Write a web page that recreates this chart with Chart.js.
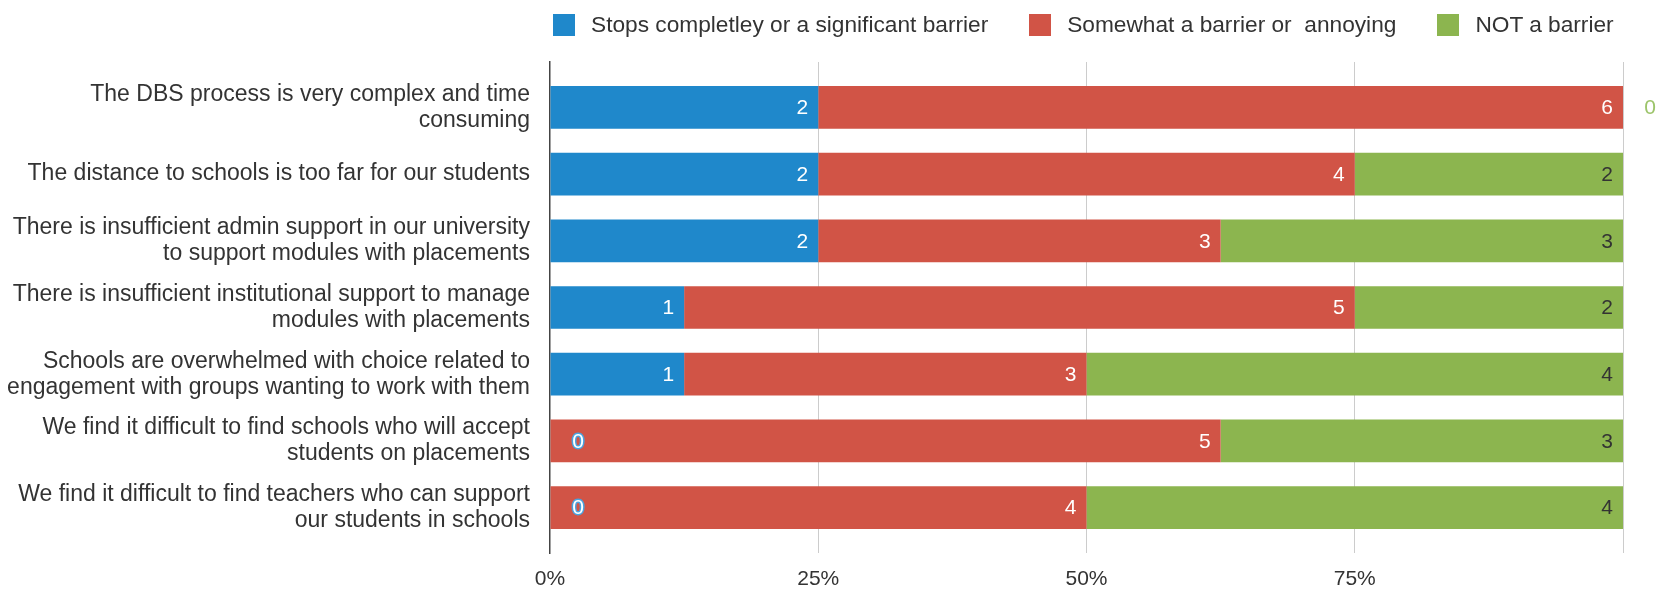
<!DOCTYPE html>
<html>
<head>
<meta charset="utf-8">
<title>Barriers to placements</title>
<script src="https://cdn.jsdelivr.net/npm/chart.js@4/dist/chart.umd.min.js"></script>
<style>
    html, body { margin: 0; padding: 0; background: #fff; }
    #wrap { position: relative; width: 1664px; height: 589px; }
    #legend {
        position: absolute; left: 553px; top: 11px;
        display: flex; align-items: center;
        font-family: 'Liberation Sans', Arial, sans-serif; font-size: 22.7px; color: #333;
        white-space: pre;
    }
    #legend .item { display: flex; align-items: center; margin-right: 41px; }
    #legend .item:last-child { margin-right: 0; }
    #legend .box { width: 22px; height: 22px; margin-right: 16px; }
</style>
</head>
<body>
<div id="wrap">
    <div id="legend"></div>
    <canvas id="chart" width="1664" height="589"></canvas>
</div>
<script>
// Categories (top to bottom), multi-line as in the original
const categories = [
    ['The DBS process is very complex and time', 'consuming'],
    ['The distance to schools is too far for our students'],
    ['There is insufficient admin support in our university', 'to support modules with placements'],
    ['There is insufficient institutional support to manage', 'modules with placements'],
    ['Schools are overwhelmed with choice related to', 'engagement with groups wanting to work with them'],
    ['We find it difficult to find schools who will accept', 'students on placements'],
    ['We find it difficult to find teachers who can support', 'our students in schools']
];

const seriesNames = [
    'Stops completley or a significant barrier',
    'Somewhat a barrier or  annoying',
    'NOT a barrier'
];

// Response counts per category
const stopsCounts = [2, 2, 2, 1, 1, 0, 0];
const somewhatCounts = [6, 4, 3, 5, 3, 5, 4];
const notBarrierCounts = [0, 2, 3, 2, 4, 3, 4];

const xTicks = [0, 25, 50, 75, 100];
const xTickLabels = ['0%', '25%', '50%', '75%', ''];

const colors = ['#1f88cb', '#d15446', '#8cb54f'];
const FONT = "'Liberation Sans', Arial, sans-serif";

const allCounts = [stopsCounts, somewhatCounts, notBarrierCounts];
const totals = categories.map((_, i) => allCounts.reduce((s, arr) => s + arr[i], 0));

function toPoints(counts) {
    return counts.map((v, i) => ({ x: v / totals[i] * 100, y: i }));
}

// Value labels drawn at the end of each segment
const valueLabels = {
    id: 'valueLabels',
    afterDatasetsDraw(chart) {
        const ctx = chart.ctx;
        ctx.save();
        ctx.font = '21px ' + FONT;
        ctx.textBaseline = 'middle';
        chart.data.datasets.forEach((ds, di) => {
            const meta = chart.getDatasetMeta(di);
            meta.data.forEach((bar, i) => {
                const v = allCounts[di][i];
                if (v > 0) {
                    ctx.textAlign = 'right';
                    ctx.fillStyle = di === 2 ? '#333' : '#fff';
                    ctx.fillText(String(v), bar.x - 10, bar.y + 1);
                } else if (di === 0) {
                    ctx.textAlign = 'center';
                    ctx.lineWidth = 3;
                    ctx.strokeStyle = '#4aa3df';
                    ctx.strokeText('0', bar.base + 28, bar.y + 1);
                    ctx.fillStyle = '#fff';
                    ctx.fillText('0', bar.base + 28, bar.y + 1);
                } else {
                    ctx.textAlign = 'center';
                    ctx.fillStyle = '#9cc46a';
                    ctx.fillText('0', bar.x + 27, bar.y + 1);
                }
            });
        });
        ctx.restore();
    }
};

// HTML legend built from the chart's own legend items
const htmlLegend = {
    id: 'htmlLegend',
    afterUpdate(chart) {
        const el = document.getElementById('legend');
        el.innerHTML = '';
        const items = chart.options.plugins.legend.labels.generateLabels(chart);
        items.forEach(item => {
            const div = document.createElement('div');
            div.className = 'item';
            const box = document.createElement('span');
            box.className = 'box';
            box.style.background = item.fillStyle;
            const txt = document.createElement('span');
            txt.textContent = item.text;
            div.appendChild(box);
            div.appendChild(txt);
            el.appendChild(div);
        });
    }
};

new Chart(document.getElementById('chart'), {
    type: 'bar',
    data: {
        datasets: [
            { label: seriesNames[0], data: toPoints(stopsCounts), backgroundColor: colors[0] },
            { label: seriesNames[1], data: toPoints(somewhatCounts), backgroundColor: colors[1] },
            { label: seriesNames[2], data: toPoints(notBarrierCounts), backgroundColor: colors[2] }
        ]
    },
    options: {
        indexAxis: 'y',
        responsive: false,
        animation: false,
        barPercentage: 0.8,
        categoryPercentage: 0.8,
        layout: { padding: { top: 62, right: 41, bottom: 0, left: 0 } },
        scales: {
            x: {
                stacked: true,
                min: 0,
                max: 100,
                afterBuildTicks: scale => { scale.ticks = xTicks.map(v => ({ value: v })); },
                afterFit: scale => { scale.height = 36; },
                grid: {
                    color: c => c.tick && c.tick.value === 0 ? 'rgba(0,0,0,0)' : '#cccccc',
                    lineWidth: 1,
                    drawTicks: false
                },
                border: { display: false },
                ticks: {
                    padding: 16,
                    color: '#333',
                    font: { family: FONT, size: 21, lineHeight: 1 },
                    callback: (v, i) => xTickLabels[i]
                }
            },
            y: {
                type: 'linear',
                stacked: true,
                reverse: true,
                offset: false,
                min: -0.68,
                max: categories.length - 1 + 0.68,
                afterBuildTicks: scale => { scale.ticks = categories.map((_, i) => ({ value: i })); },
                afterFit: scale => {
                    scale.width = 550;
                    scale.paddingTop = 0;
                    scale.paddingBottom = 0;
                },
                grid: { display: false, drawTicks: false },
                border: { display: true, color: '#444', width: 1.5 },
                ticks: {
                    padding: 20,
                    color: '#333',
                    font: { family: FONT, size: 23, lineHeight: 1.13 },
                    callback: v => categories[v]
                }
            }
        },
        plugins: {
            legend: { display: false },
            tooltip: { enabled: false }
        }
    },
    plugins: [valueLabels, htmlLegend]
});
</script>
</body>
</html>
